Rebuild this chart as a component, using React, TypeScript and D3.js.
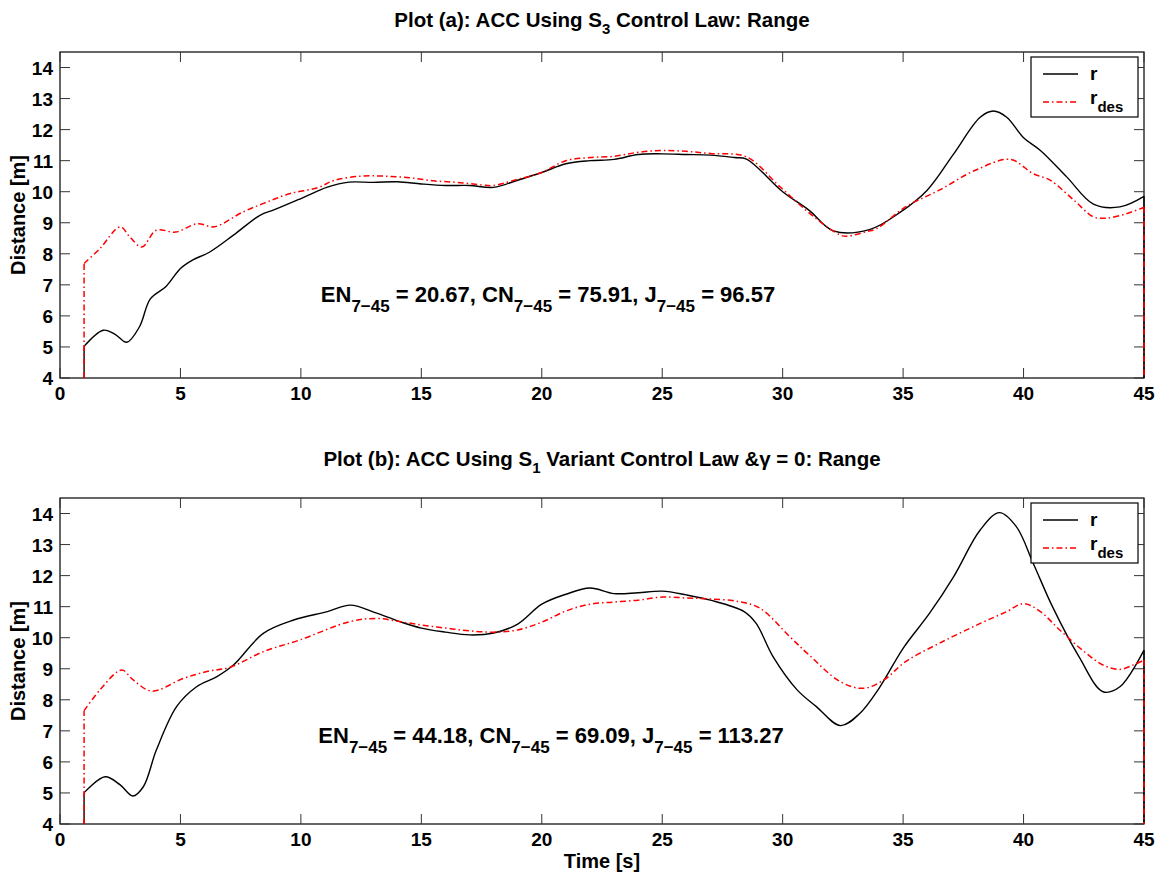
import React from "react";
import * as d3 from "d3";

// ---- data: [time s, distance m] ----
const rA: [number, number][] = [
  [1, 5.02], [1.8, 5.54], [2.3, 5.4], [2.77, 5.15], [3.3, 5.65], [3.75, 6.55], [4.4, 6.95],
  [5.0, 7.53], [5.5, 7.8], [6.2, 8.05], [7.2, 8.6], [8.3, 9.24], [8.9, 9.42], [10, 9.78],
  [11.1, 10.15], [12, 10.31], [13, 10.3], [14, 10.32], [15, 10.25], [16, 10.2], [17, 10.2],
  [18, 10.14], [19, 10.37], [20, 10.62], [21, 10.9], [22, 11.0], [23, 11.04], [24, 11.2],
  [25, 11.22], [26, 11.2], [27, 11.18], [28, 11.1], [28.5, 11.05], [30, 10.0], [31.1, 9.4],
  [32.1, 8.74], [33.6, 8.78], [34.9, 9.35], [36, 10.05], [37.1, 11.22], [38.2, 12.4],
  [38.75, 12.6], [39.3, 12.4], [40, 11.74], [40.7, 11.33], [41.8, 10.47], [42.9, 9.6],
  [44, 9.51], [45, 9.85],
];
const rDesA: [number, number][] = [
  [1, 7.69], [1.66, 8.17], [2.5, 8.87], [2.9, 8.54], [3.4, 8.22], [4.0, 8.76], [4.8, 8.7],
  [5.7, 8.97], [6.4, 8.87], [7.6, 9.35], [8.6, 9.67], [9.55, 9.94], [10.7, 10.13],
  [11.4, 10.37], [12.5, 10.5], [13.5, 10.5], [14.5, 10.45], [15.5, 10.35], [16.5, 10.3],
  [17.5, 10.22], [18, 10.2], [19, 10.4], [20, 10.62], [21, 11.0], [22, 11.1], [23, 11.14],
  [24, 11.27], [25, 11.33], [26, 11.3], [27, 11.23], [28.5, 11.12], [29.9, 10.15],
  [31.3, 9.19], [32.4, 8.6], [32.7, 8.57], [33.5, 8.72], [33.9, 8.81], [35.1, 9.51],
  [36.5, 10.05], [38, 10.69], [39.45, 11.04], [40.4, 10.58], [41.1, 10.37], [42.1, 9.72],
  [42.9, 9.19], [43.45, 9.15], [44.3, 9.3], [45, 9.5],
];
const rB: [number, number][] = [
  [1, 5.01], [1.87, 5.52], [2.5, 5.26], [3.02, 4.9], [3.46, 5.2], [4.0, 6.38], [4.84, 7.78],
  [5.67, 8.42], [6.5, 8.74], [7.2, 9.12], [8.44, 10.14], [9.7, 10.57], [11.1, 10.84],
  [12.05, 11.05], [13.15, 10.79], [14.1, 10.52], [15, 10.31], [16, 10.18], [17, 10.09],
  [18, 10.15], [19, 10.44], [20, 11.08], [21, 11.4], [22, 11.6], [23, 11.42], [24, 11.45],
  [25, 11.5], [26, 11.38], [27, 11.21], [28.4, 10.84], [28.9, 10.46], [29.6, 9.39],
  [30.6, 8.32], [31.4, 7.78], [32.4, 7.17], [33.2, 7.56], [34.0, 8.37], [35.0, 9.66],
  [36.1, 10.79], [37.1, 11.97], [38.2, 13.47], [39.0, 14.03], [39.7, 13.58], [40.4, 12.4],
  [41.2, 11.0], [42.3, 9.39], [43.3, 8.26], [44, 8.42], [45, 9.6],
];
const rDesB: [number, number][] = [
  [1, 7.65], [1.66, 8.32], [2.56, 8.96], [3.04, 8.64], [3.81, 8.28], [5.12, 8.69],
  [6.1, 8.91], [7.06, 9.05], [8.44, 9.55], [9.96, 9.93], [12.04, 10.52], [13.15, 10.62],
  [14.1, 10.52], [15, 10.41], [16, 10.31], [17, 10.22], [18, 10.18], [19, 10.25], [20, 10.5],
  [21, 10.86], [22, 11.08], [23, 11.15], [24, 11.21], [25, 11.31], [26, 11.28], [27, 11.25],
  [28.2, 11.16], [29.06, 10.95], [30.3, 10.03], [31.1, 9.44], [32.4, 8.58], [33.35, 8.37],
  [34.2, 8.64], [35.1, 9.23], [36.5, 9.82], [38.2, 10.46], [39.3, 10.84], [40, 11.1],
  [40.7, 10.84], [41.5, 10.25], [42.6, 9.5], [43.3, 9.12], [44, 8.98], [44.55, 9.12],
  [45, 9.28],
];

const xTicks = [0, 5, 10, 15, 20, 25, 30, 35, 40, 45];
const yTicks = [4, 5, 6, 7, 8, 9, 10, 11, 12, 13, 14];
const statsA = { en: "20.67", cn: "75.91", j: "96.57" };
const statsB = { en: "44.18", cn: "69.09", j: "113.27" };

const FONT = "'Liberation Sans', Arial, Helvetica, sans-serif";
const LEFT = 60;
const RIGHT = 1144;
const PANEL_H = 326;
const RED_DASH = "6,3,1.5,3";

const x = d3.scaleLinear().domain([0, 45]).range([LEFT, RIGHT]);

type PanelProps = {
  id: string;
  top: number;
  r: [number, number][];
  rDes: [number, number][];
  stats: { en: string; cn: string; j: string };
  statsX: number;
  statsY: number;
};

const Panel = ({ id, top, r, rDes, stats, statsX, statsY }: PanelProps) => {
  const bottom = top + PANEL_H;
  const y = d3.scaleLinear().domain([4, 14.5]).range([bottom, top]);
  const smooth = d3
    .line<[number, number]>()
    .x((d) => x(d[0]))
    .y((d) => y(d[1]))
    .curve(d3.curveCatmullRom.alpha(0.5));
  const straight = d3
    .line<[number, number]>()
    .x((d) => x(d[0]))
    .y((d) => y(d[1]));
  // vertical drops to the axis floor at both ends of each series
  const ends = (s: [number, number][]) => {
    const a = s[0];
    const b = s[s.length - 1];
    return [straight([[a[0], 4], a]), straight([b, [b[0], 4]])];
  };
  const [rS, rE] = ends(r);
  const [dS, dE] = ends(rDes);
  const lx = 1031;
  const ly = top + 5;
  return (
    <g>
      <defs>
        <clipPath id={id}>
          <rect x={LEFT - 2} y={top} width={RIGHT - LEFT + 4} height={PANEL_H + 1} />
        </clipPath>
      </defs>
      <rect
        x={LEFT}
        y={top}
        width={RIGHT - LEFT}
        height={PANEL_H}
        fill="#fff"
        stroke="#000"
        strokeWidth={1.2}
      />
      {xTicks.map((t) => (
        <g key={"x" + t}>
          <line x1={x(t)} x2={x(t)} y1={bottom} y2={bottom - 10} stroke="#333" />
          <line x1={x(t)} x2={x(t)} y1={top} y2={top + 10} stroke="#333" />
          <text
            x={x(t)}
            y={bottom + 22}
            textAnchor="middle"
            fontFamily={FONT}
            fontWeight="bold"
            fontSize={19}
          >
            {t}
          </text>
        </g>
      ))}
      {yTicks.map((t) => (
        <g key={"y" + t}>
          <line x1={LEFT} x2={LEFT + 10} y1={y(t)} y2={y(t)} stroke="#333" />
          <line x1={RIGHT} x2={RIGHT - 10} y1={y(t)} y2={y(t)} stroke="#333" />
          <text
            x={LEFT - 7}
            y={y(t) + 7}
            textAnchor="end"
            fontFamily={FONT}
            fontWeight="bold"
            fontSize={19}
          >
            {t}
          </text>
        </g>
      ))}
      <g clipPath={`url(#${id})`} fill="none">
        <path d={rS!} stroke="#000" strokeWidth={1.4} />
        <path d={smooth(r)!} stroke="#000" strokeWidth={1.4} />
        <path d={rE!} stroke="#000" strokeWidth={1.4} />
        <path d={dS!} stroke="#f00" strokeWidth={1.5} strokeDasharray={RED_DASH} />
        <path d={smooth(rDes)!} stroke="#f00" strokeWidth={1.5} strokeDasharray={RED_DASH} />
        <path d={dE!} stroke="#f00" strokeWidth={1.6} strokeDasharray={RED_DASH} />
      </g>
      <text
        transform={`translate(25,${(top + bottom) / 2}) rotate(-90)`}
        textAnchor="middle"
        fontFamily={FONT}
        fontWeight="bold"
        fontSize={20}
      >
        Distance [m]
      </text>
      <text
        x={statsX}
        y={statsY}
        textAnchor="middle"
        fontFamily={FONT}
        fontWeight="bold"
        fontSize={22}
      >
        EN<tspan fontSize={17} dy={10}>7−45</tspan>
        <tspan dy={-10}> = {stats.en}, CN</tspan>
        <tspan fontSize={17} dy={10}>7−45</tspan>
        <tspan dy={-10}> = {stats.cn}, J</tspan>
        <tspan fontSize={17} dy={10}>7−45</tspan>
        <tspan dy={-10}> = {stats.j}</tspan>
      </text>
      <g>
        <rect x={lx} y={ly} width={107} height={60} fill="#fff" stroke="#000" strokeWidth={1.2} />
        <line x1={lx + 12} x2={lx + 47} y1={ly + 17} y2={ly + 17} stroke="#000" strokeWidth={1.4} />
        <line
          x1={lx + 12}
          x2={lx + 47}
          y1={ly + 45}
          y2={ly + 45}
          stroke="#f00"
          strokeWidth={1.5}
          strokeDasharray={RED_DASH}
        />
        <text x={lx + 59} y={ly + 23} fontFamily={FONT} fontWeight="bold" fontSize={19}>
          r
        </text>
        <text x={lx + 59} y={ly + 47} fontFamily={FONT} fontWeight="bold" fontSize={19}>
          r<tspan fontSize={15} dy={8}>des</tspan>
        </text>
      </g>
    </g>
  );
};

const Title = ({ y, pre, sub, post }: { y: number; pre: string; sub: string; post: string }) => (
  <text
    x={(LEFT + RIGHT) / 2}
    y={y}
    textAnchor="middle"
    fontFamily={FONT}
    fontWeight="bold"
    fontSize={20.5}
  >
    {pre}
    <tspan fontSize={15} dy={7}>{sub}</tspan>
    <tspan dy={-7}>{post}</tspan>
  </text>
);

export default function App() {
  return (
    <svg
      width={1165}
      height={876}
      style={{ position: "absolute", left: 0, top: 0, background: "#fff" }}
    >
      <rect width={1165} height={876} fill="#fff" />
      <Title y={27} pre="Plot (a): ACC Using S" sub="3" post=" Control Law: Range" />
      <Panel id="clipA" top={52} r={rA} rDes={rDesA} stats={statsA} statsX={548} statsY={302} />
      <Title y={466} pre="Plot (b): ACC Using S" sub="1" post=" Variant Control Law &γ = 0: Range" />
      <Panel id="clipB" top={498} r={rB} rDes={rDesB} stats={statsB} statsX={551} statsY={743} />
      <text
        x={(LEFT + RIGHT) / 2}
        y={868}
        textAnchor="middle"
        fontFamily={FONT}
        fontWeight="bold"
        fontSize={20}
      >
        Time [s]
      </text>
    </svg>
  );
}
